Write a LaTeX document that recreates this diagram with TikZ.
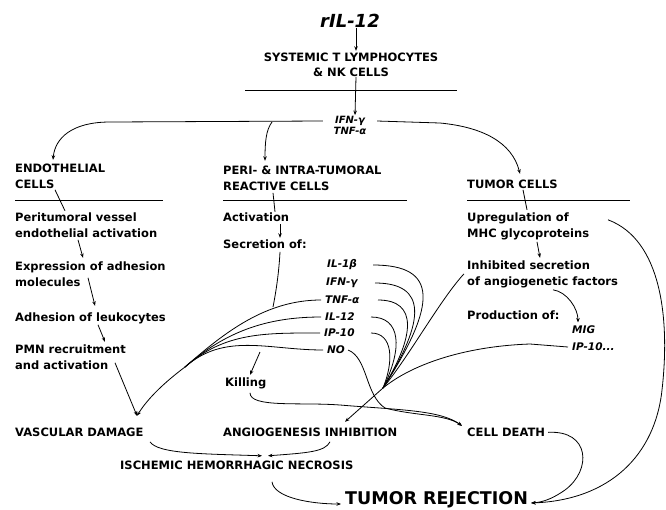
\documentclass[tikz,border=0pt]{standalone}
\usepackage{fontspec}
\setmainfont{DejaVu Sans}
\usetikzlibrary{arrows.meta}

\tikzset{
  txt/.style={anchor=north west,inner sep=0pt,align=left,
    font=\bfseries\fontsize{11.5}{16}\selectfont},
  cyto/.style={anchor=west,inner sep=0pt,font=\bfseries\itshape\fontsize{10.5}{12}\selectfont},
  wire/.style={line width=0.8pt},
  arr/.style={-{Stealth[length=4.5pt,width=3.5pt]}},
}

\begin{document}
\begin{tikzpicture}[x=1pt,y=-1pt]
  \useasboundingbox (0,0) rectangle (666,509);

  % top
  \node[inner sep=0pt,font=\bfseries\itshape\fontsize{18}{20}\selectfont] (ril) at (350,21) {rIL-12};
  \node[txt,anchor=north,align=center,font=\bfseries\fontsize{11.5}{15}\selectfont] (sys) at (351,52.8)
    {SYSTEMIC T LYMPHOCYTES\\\& NK CELLS};
  \draw[wire] (245,90) -- (457,90);
  \node[inner sep=0pt,font=\bfseries\itshape\fontsize{10}{10}\selectfont] (ifn) at (350,121) {IFN-γ};
  \node[inner sep=0pt,font=\bfseries\itshape\fontsize{10}{10}\selectfont] (tnf) at (350,131) {TNF-α};
  \draw[wire,arr] ([xshift=6pt]ril.south) -- ([xshift=5pt,yshift=2pt]sys.north);
  \draw[wire,arr] ([xshift=5pt]sys.south) -- ([xshift=5pt,yshift=1pt]ifn.north);

  % three columns
  \node[txt] (endo) at (15,163.8) {ENDOTHELIAL\\CELLS};
  \node[txt] (peri) at (223,165.8) {PERI- \& INTRA-TUMORAL\\REACTIVE CELLS};
  \node[txt] (tum) at (467,179.8) {TUMOR CELLS};
  \draw[wire] (15,200) -- (163,200);
  \draw[wire] (223,200) -- (407,200);
  \draw[wire] (467,200) -- (630,200);

  \draw[wire,arr] ([xshift=-12pt]ifn.west) -- (110,122) .. controls (72,122) and (55,138) .. ([shift={(38,-4)}]endo.north west);
  \draw[wire,arr] (272,122) .. controls (266,130) and (265,142) .. ([shift={(42,-5)}]peri.north west);
  \draw[wire,arr] ([xshift=12pt]ifn.east) -- (440,123) .. controls (482,127) and (512,142) .. ([shift={(53,-6)}]tum.north west);

  % endothelial cells
  \node[txt] (vess) at (15,212.8) {Peritumoral vessel\\endothelial activation};
  \node[txt] (expr) at (15,261.8) {Expression of adhesion\\molecules};
  \node[txt] (adh) at (15,312.8) {Adhesion of leukocytes};
  \node[txt] (pmn) at (15,344.8) {PMN recruitment\\and activation};
  \node[txt] (vasc) at (15,427.8) {VASCULAR DAMAGE};
  \draw[wire] ([shift={(40,26)}]endo.north west) -- ([shift={(50,-2)}]vess.north west);
  \draw[wire,arr] ([shift={(63,27)}]vess.north west) -- ([shift={(68,-4)}]expr.north west);
  \draw[wire,arr] ([shift={(73,16)}]expr.north west) -- ([shift={(80,-7)}]adh.north west);
  \draw[wire,arr] ([shift={(83,12)}]adh.north west) -- ([shift={(90,-3)}]pmn.north west);
  \draw[wire,arr] ([shift={(100,18)}]pmn.north west) -- ([shift={(122,-12)}]vasc.north west);

  % reactive cells
  \node[txt] (act) at (223,212.8) {Activation};
  \node[txt] (sec) at (223,239.8) {Secretion of:};
  \node[cyto] (il1b) at (327,265) {IL-1β};
  \node[cyto] (ifng) at (326,283) {IFN-γ};
  \node[cyto] (tnfa) at (325,300) {TNF-α};
  \node[cyto] (il12) at (325,317) {IL-12};
  \node[cyto] (ip10) at (324,333) {IP-10};
  \node[cyto] (no) at (327,350) {NO};
  \node[txt] (kill) at (225,377.8) {Killing};
  \node[txt] (angio) at (223,427.8) {ANGIOGENESIS INHIBITION};
  \draw[wire] ([shift={(50,27)}]peri.north west) -- ([shift={(52,-1)}]act.north west);
  \draw[wire,arr] ([shift={(57,11)}]act.north west) -- ([shift={(57,-2)}]sec.north west);
  \draw[wire] ([shift={(57,12)}]sec.north west) .. controls (279,272) and (276,292) .. (273,307);

  % to vascular damage
  \coordinate (jv) at (185,367);
  \foreach \c in {tnfa,il12,ip10,no}
    \draw[wire] ([xshift=-4pt]\c.west) .. controls +(-55,0) and +(40,-35) .. (jv);
  \draw[wire,arr] (jv) .. controls (165,382) and (148,398) .. ([shift={(122,-12)}]vasc.north west);
  \draw[wire,arr] ([shift={(-67,2)}]no.west) -- ([shift={(25,-3)}]kill.north west);

  % to angiogenesis inhibition
  \coordinate (ja) at (383,388);
  \draw[wire] ([xshift=46pt]il1b.west) .. controls +(65,0) and +(55,-85) .. (ja);
  \draw[wire] ([xshift=49pt]ifng.west) .. controls +(52,0) and +(43,-68) .. (ja);
  \draw[wire] ([xshift=53pt]tnfa.west) .. controls +(40,0) and +(32,-52) .. (ja);
  \draw[wire] ([xshift=46pt]il12.west) .. controls +(30,0) and +(20,-40) .. (ja);
  \draw[wire] ([xshift=47pt]ip10.west) .. controls +(22,0) and +(11,-27) .. (ja);

  % tumor cells
  \node[txt] (upr) at (467,212.8) {Upregulation of\\MHC glycoproteins};
  \node[txt] (inh) at (467,260.8) {Inhibited secretion\\of angiogenetic factors};
  \node[txt] (prod) at (467,310.8) {Production of:};
  \node[cyto,anchor=north west] (mig) at (572,325.5) {MIG};
  \node[cyto] (ipb) at (572,347) {IP-10...};
  \node[txt] (death) at (467,427.8) {CELL DEATH};
  \draw[wire] ([shift={(56,10)}]tum.north west) -- ([shift={(60,-3)}]upr.north west);
  \draw[wire,arr] ([shift={(70,29)}]upr.north west) -- ([shift={(73,-3)}]inh.north west);
  \draw[wire,arr] ([shift={(86,29)}]inh.north west) .. controls +(14,2) and +(0,-14) .. ([shift={(6,-3)}]mig.north west);
  \draw[wire] ([shift={(-3,13)}]inh.north west) .. controls (440,300) and (410,355) .. (ja);
  \draw[wire] ([xshift=-4pt]ipb.west) -- (530,344) .. controls (470,346) and (415,362) .. (ja);
  \draw[wire,arr] (ja) -- ([shift={(122,-6)}]angio.north west);

  % to cell death
  \draw[wire,arr] ([xshift=3pt]no.east) .. controls (368,358) and (365,395) .. (385,408) .. controls (415,416) and (445,414) .. ([shift={(-5,-2)}]death.north west);
  \draw[wire,arr] ([shift={(25,15)}]kill.north west) .. controls (250,408) and (300,402) .. (340,405) .. controls (400,410) and (440,410) .. ([shift={(-5,-2)}]death.north west);

  % bottom
  \node[txt] (isch) at (120,460.8) {ISCHEMIC HEMORRHAGIC NECROSIS};
  \node[anchor=west,inner sep=0pt,font=\bfseries\fontsize{17.5}{20}\selectfont] (rej) at (345,500) {TUMOR REJECTION};
  \draw[wire,arr] ([shift={(135,14)}]vasc.north west) .. controls +(8,12) and +(-60,-2) .. ([shift={(142,-5)}]isch.north west);
  \draw[wire,arr] ([shift={(107,14)}]angio.north west) .. controls +(-5,10) and +(40,-3) .. ([shift={(148,-5)}]isch.north west);
  \draw[wire,arr] ([shift={(152,21)}]isch.north west) .. controls +(2,16) and +(-30,0) .. ([xshift=-4pt,yshift=-4pt]rej.west);
  \draw[wire,arr] ([xshift=3pt]death.east) .. controls (590,430) and (592,470) .. (565,490) .. controls (555,497) and (545,502) .. ([xshift=3pt,yshift=-3pt]rej.east);
  \draw[wire,arr] ([shift={(141,7)}]upr.north west) .. controls (662,240) and (670,320) .. (662,390) .. controls (655,455) and (610,500) .. ([xshift=3pt,yshift=-3pt]rej.east);
\end{tikzpicture}
\end{document}
